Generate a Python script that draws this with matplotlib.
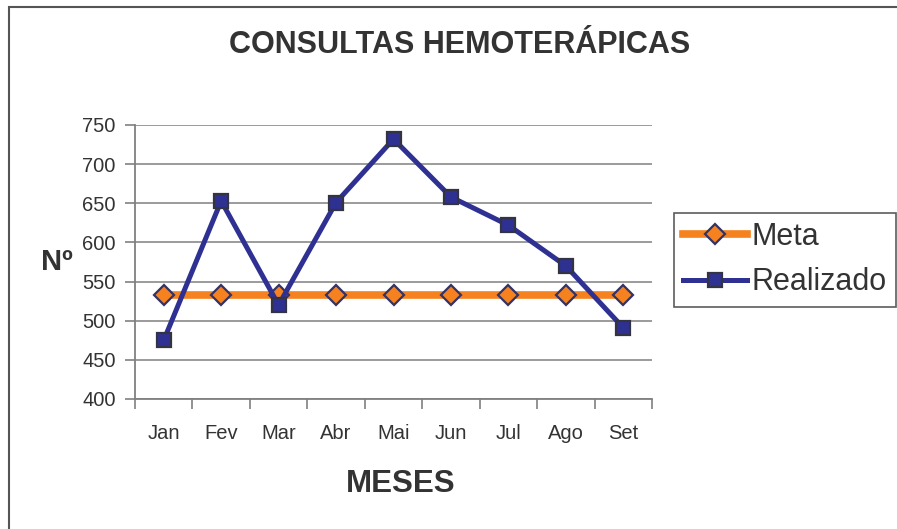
import matplotlib.pyplot as plt
import matplotlib.patches as mpatches
import numpy as np

plt.rcParams['font.family'] = ['Liberation Sans', 'DejaVu Sans']

# data
meses = ['Jan', 'Fev', 'Mar', 'Abr', 'Mai', 'Jun', 'Jul', 'Ago', 'Set']
meta = [533, 533, 533, 533, 533, 533, 533, 533, 533]
realizado = [475, 653, 520, 651, 732, 658, 622, 570, 491]
yticks = [400, 450, 500, 550, 600, 650, 700, 750]

W, H = 897, 529
fig = plt.figure(figsize=(W / 100, H / 100), dpi=100)
ax = fig.add_axes([135 / W, 1 - 399 / H, (652 - 135) / W, (399 - 125) / H])

x = np.arange(len(meses))
txt = '#333333'

# outer frame (only top and left visible in the original)
fig.patches.append(mpatches.Rectangle((9 / W, -0.1), 1.2, 1 - 7 / H + 0.1,
                                      transform=fig.transFigure, fill=False,
                                      edgecolor='#555555', linewidth=1.5))

ax.plot(x, meta, color='#F5821F', linewidth=5.5, marker='D', markersize=10,
        markerfacecolor='#F5821F', markeredgecolor='#333366', markeredgewidth=1.6,
        label='Meta', zorder=3)
ax.plot(x, realizado, color='#2E3192', linewidth=3.6, marker='s', markersize=10,
        markerfacecolor='#2E3192', markeredgecolor='#333344', markeredgewidth=1.6,
        label='Realizado', zorder=4)

ax.set_xlim(-0.5, len(meses) - 0.5)
ax.set_ylim(400, 750)
ax.set_yticks(yticks)
ax.set_xticks(x)
ax.set_xticklabels(meses)
ax.set_xticks(np.arange(-0.5, len(meses)), minor=True)
ax.tick_params(axis='x', which='major', length=0, pad=18, labelsize=14.5, labelcolor=txt)
ax.tick_params(axis='x', which='minor', length=7, color='#808080', width=1.2)
ax.tick_params(axis='y', length=7, color='#808080', width=1.2, pad=7,
               labelsize=14.5, labelcolor=txt)

ax.yaxis.grid(True, color='#808080', linewidth=1.1)
ax.set_axisbelow(True)
for s in ['top', 'right']:
    ax.spines[s].set_visible(False)
for s in ['left', 'bottom']:
    ax.spines[s].set_color('#808080')
    ax.spines[s].set_linewidth(1.3)

fig.text(460 / W, 1 - 45 / H, 'CONSULTAS HEMOTERÁPICAS', ha='center', va='center',
         fontsize=22, fontweight='bold', color=txt)
fig.text(401 / W, 1 - 484 / H, 'MESES', ha='center', va='center',
         fontsize=22.5, fontweight='bold', color=txt)
fig.text(57 / W, 1 - 262 / H, 'Nº', ha='center', va='center',
         fontsize=21, fontweight='bold', color=txt)

leg = ax.legend(loc='upper left', bbox_to_anchor=(674 / W, 1 - 213 / H),
                bbox_transform=fig.transFigure, fontsize=22, frameon=True,
                fancybox=False, edgecolor='#333333', borderpad=0.3,
                handlelength=2.1, handletextpad=0.15, labelspacing=0.5,
                borderaxespad=0)
leg.get_frame().set_linewidth(1.2)
for t in leg.get_texts():
    t.set_color(txt)

plt.savefig('out.png', dpi=100)
